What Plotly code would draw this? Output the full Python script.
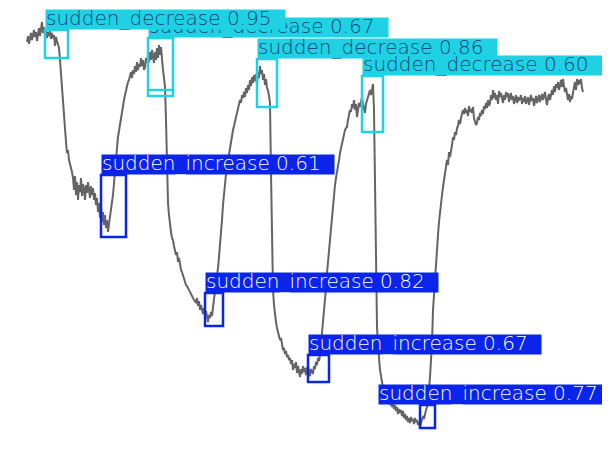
import plotly.graph_objects as go

# signal readings (time index, image row) -- image coordinates, y grows downward
readings = [
(27,42),(28,36),(29,44),(30,38),(31,33),(32,40),(33,35),(34,30),(35,37),(36,32),(37,41),(38,34),(39,28),(40,36),(41,30),(42,22),(43,33),(44,27),(45,35),(46,30),(47,38),(48,32),(49,36),(50,31),(51,39),(52,33),(53,38),(54,35),(55,46),(56,37),(57,41),(58,44),(59,48),
(60,60),(61,75),(62,93),(63,105),(64,120),(65,128),(66,142),(67,153),(68,150),(69,160),(70,163),(71,168),(72,172),(73,178),(74,190),(75,176),(76,195),(77,182),(78,200),(79,185),(80,192),(81,178),(82,196),(83,184),(84,190),(85,200),(86,185),(87,193),(88,182),(89,190),(90,198),(91,186),(92,195),(93,188),(94,200),(95,193),(96,205),(97,198),(98,212),(99,203),(100,218),(101,206),(102,222),(103,212),(104,225),(105,215),(106,228),(107,220),(108,232),(109,224),(110,218),(111,210),(112,202),(113,195),(114,185),(115,173),(116,160),(117,148),(118,137),(119,130),(120,125),(121,120),(122,112),(123,107),(124,100),(125,95),(126,90),(127,85),(128,82),(129,80),(130,77),(131,72),(132,78),(133,70),(134,74),(135,66),(136,72),(137,62),(138,70),(139,64),(140,67),(141,58),(142,66),(143,60),(144,70),(145,67),(146,58),(147,63),
(148,55),(149,62),(150,52),(151,60),(152,50),(153,57),(154,63),(155,52),(156,60),(157,48),(158,58),(159,45),(160,55),(161,47),(162,62),(163,70),(164,78),(165,87),(166,120),(167,170),(168,203),(169,215),(170,227),(171,232),(172,238),(173,240),(174,246),(175,250),(176,255),(177,252),(178,262),(179,258),(180,267),(181,270),(182,272),(183,276),(184,280),(185,283),(186,285),(187,286),(188,288),(189,291),(190,293),(191,294),(192,296),(193,298),(194,300),(195,301),(196,303),(197,298),(198,306),(199,301),(200,310),(201,305),(202,312),(203,314),(204,308),(205,316),(206,311),(207,318),(208,322),(209,315),(210,318),(211,312),(212,316),(213,307),(214,300),(215,292),(216,285),(217,278),(218,268),(219,257),(220,247),(221,233),(222,220),(223,205),(224,193),(225,182),(226,174),(227,167),(228,160),(229,154),(230,147),(231,142),(232,136),(233,130),(234,126),(235,120),(236,117),(237,113),(238,108),(239,104),(240,100),(241,103),(242,95),(243,98),(244,92),(245,97),(246,88),(247,93),(248,85),(249,90),(250,80),(251,86),(252,77),(253,83),(254,75),(255,81),(256,74),(257,85),(258,72),(259,78),(260,66),(261,74),(262,70),(263,80),(264,74),(265,85),(266,79),(267,88),(268,90),(269,96),(270,103),
(271,173),(272,240),(273,290),(274,305),(275,317),(276,322),(277,328),(278,333),(279,336),(280,340),(281,338),(282,346),(283,350),(284,348),(285,354),(286,351),(287,357),(288,355),(289,360),(290,358),(291,364),(292,360),(293,370),(294,364),(295,368),(296,362),(297,373),(298,366),(299,371),(300,377),(301,369),(302,374),(303,366),(304,372),(305,368),(306,375),(307,370),(308,365),(309,373),(310,376),(311,369),(312,372),(313,374),(314,366),(315,369),(316,362),(317,365),(318,358),(319,361),(320,355),(321,345),(322,330),(323,320),(324,310),(325,300),(326,288),(327,273),(328,262),(329,250),(330,240),(331,225),(332,212),(333,200),(334,192),(335,185),(336,178),(337,173),(338,166),(339,160),(340,153),(341,148),(342,143),(343,137),(344,134),(345,130),(346,128),(347,127),(348,120),(349,115),(350,110),(351,112),(352,104),(353,108),(354,100),(355,110),(356,104),(357,117),(358,108),(359,103),(360,107),(361,100),(362,97),(363,104),(364,110),(365,113),(366,104),(367,100),(368,96),(369,92),(370,90),(371,95),(372,88),(373,84),(374,110),
(375,193),(376,260),(377,327),(378,345),(379,360),(380,370),(381,376),(382,383),(383,390),(384,393),(385,396),(386,398),(387,400),(388,403),(389,399),(390,405),(391,402),(392,407),(393,404),(394,409),(395,405),(396,411),(397,407),(398,414),(399,409),(400,413),(401,410),(402,416),(403,411),(404,418),(405,414),(406,420),(407,416),(408,422),(409,418),(410,423),(411,417),(412,421),(413,419),(414,424),(415,418),(416,422),(417,420),(418,425),(419,422),(420,427),(421,423),(422,420),(423,416),(424,419),(425,413),(426,410),(427,407),(428,400),(429,390),(430,377),(431,360),(432,343),(433,310),(434,293),(435,277),(436,262),(437,247),(438,235),(439,222),(440,210),(441,203),(442,195),(443,187),(444,180),(445,175),(446,170),(447,160),(448,165),(449,152),(450,157),(451,148),(452,145),(453,137),(454,140),(455,132),(456,135),(457,128),(458,126),(459,120),(460,124),(461,118),(462,113),(463,110),(464,114),(465,108),(466,113),(467,110),(468,116),(469,106),(470,112),(471,109),(472,113),(473,107),(474,118),(475,121),(476,125),(477,123),(478,117),(479,120),(480,113),(481,116),(482,110),(483,114),(484,106),(485,109),(486,103),(487,108),(488,100),(489,106),(490,103),(491,95),(492,100),(493,90),(494,98),(495,93),(496,100),(497,95),(498,104),(499,91),(500,97),(501,93),(502,100),(503,103),(504,95),(505,100),(506,92),(507,97),(508,93),(509,102),(510,97),(511,93),(512,100),(513,96),(514,104),(515,98),(516,95),(517,103),(518,97),(519,100),(520,99),(521,95),(522,104),(523,98),(524,102),(525,96),(526,104),(527,100),(528,97),(529,105),(530,99),(531,95),(532,101),(533,98),(534,106),(535,100),(536,96),(537,103),(538,99),(539,95),(540,102),(541,97),(542,94),(543,100),(544,96),(545,92),(546,99),(547,105),(548,98),(549,94),(550,100),(551,96),(552,90),(553,95),(554,86),(555,92),(556,84),(557,88),(558,82),(559,90),(560,85),(561,80),(562,87),(563,79),(564,86),(565,92),(566,88),(567,96),(568,100),(569,94),(570,102),(571,96),(572,99),(573,93),(574,88),(575,82),(576,90),(577,79),(578,85),(579,80),(580,84),(581,79),(582,88),(583,92),
]
time = [p[0] for p in readings]
signal = [p[1] for p in readings]

# detections (draw order matters: later labels overlap earlier ones)
det_class = ["sudden_decrease", "sudden_decrease", "sudden_decrease", "sudden_decrease",
             "sudden_increase", "sudden_increase", "sudden_increase", "sudden_increase"]
det_score = ["0.67", "0.95", "0.86", "0.60", "0.61", "0.82", "0.67", "0.77"]
det_x0 = [148, 45, 257, 362, 101, 205, 308, 420]
det_x1 = [173, 68, 277, 383, 126, 223, 329, 435]
det_y0 = [38, 30, 59, 76, 175, 293, 355, 405]
det_y1 = [96, 58, 107, 132, 237, 326, 382, 428]

IMG_W, IMG_H = 610, 450
PAGE_OFFSET = 8  # default body margin of the html page
style = {
    "sudden_decrease": dict(box="#1ED2E4", text="#0F3F78", width=239),
    "sudden_increase": dict(box="#0B24EC", text="#FFFFFF", width=232),
}
LABEL_H = 19

fig = go.Figure()
fig.add_trace(go.Scatter(x=time, y=signal, mode="lines",
                         line=dict(color="#646464", width=2), hoverinfo="skip",
                         showlegend=False))

shapes = []
annotations = []
for cls, sc, x0, x1, y0, y1 in zip(det_class, det_score, det_x0, det_x1, det_y0, det_y1):
    st = style[cls]
    shapes.append(dict(type="rect", xref="x", yref="y", x0=x0, x1=x1, y0=y0, y1=y1,
                       line=dict(color=st["box"], width=2.5), fillcolor="rgba(0,0,0,0)"))
    lx = min(x0, IMG_W - st["width"])
    # label background
    annotations.append(dict(
        x=lx, y=y0, xref="x", yref="y", xanchor="left", yanchor="bottom",
        text=" ", showarrow=False, bgcolor=st["box"], width=st["width"],
        height=LABEL_H, borderpad=0, font=dict(size=4)))
    # label text
    annotations.append(dict(
        x=lx, y=y0 - LABEL_H / 2, xref="x", yref="y", xanchor="left", yanchor="middle",
        text=f"{cls} {sc}", showarrow=False, align="left", borderpad=0, yshift=2.5,
        font=dict(family="DejaVu Sans", size=20, weight=300, color=st["text"])))

# the 0.67 decrease box has a second bottom edge
shapes.append(dict(type="line", xref="x", yref="y", x0=det_x0[0], x1=det_x1[0], y0=90, y1=90,
                   line=dict(color=style["sudden_decrease"]["box"], width=2.5)))

fig.update_layout(
    width=IMG_W - PAGE_OFFSET, height=IMG_H - PAGE_OFFSET, margin=dict(l=0, r=0, t=0, b=0),
    paper_bgcolor="white", plot_bgcolor="white",
    xaxis=dict(range=[PAGE_OFFSET, IMG_W], visible=False, fixedrange=True),
    yaxis=dict(range=[IMG_H, PAGE_OFFSET], visible=False, fixedrange=True),
    shapes=shapes, annotations=annotations,
)
fig.write_html("out.html")
